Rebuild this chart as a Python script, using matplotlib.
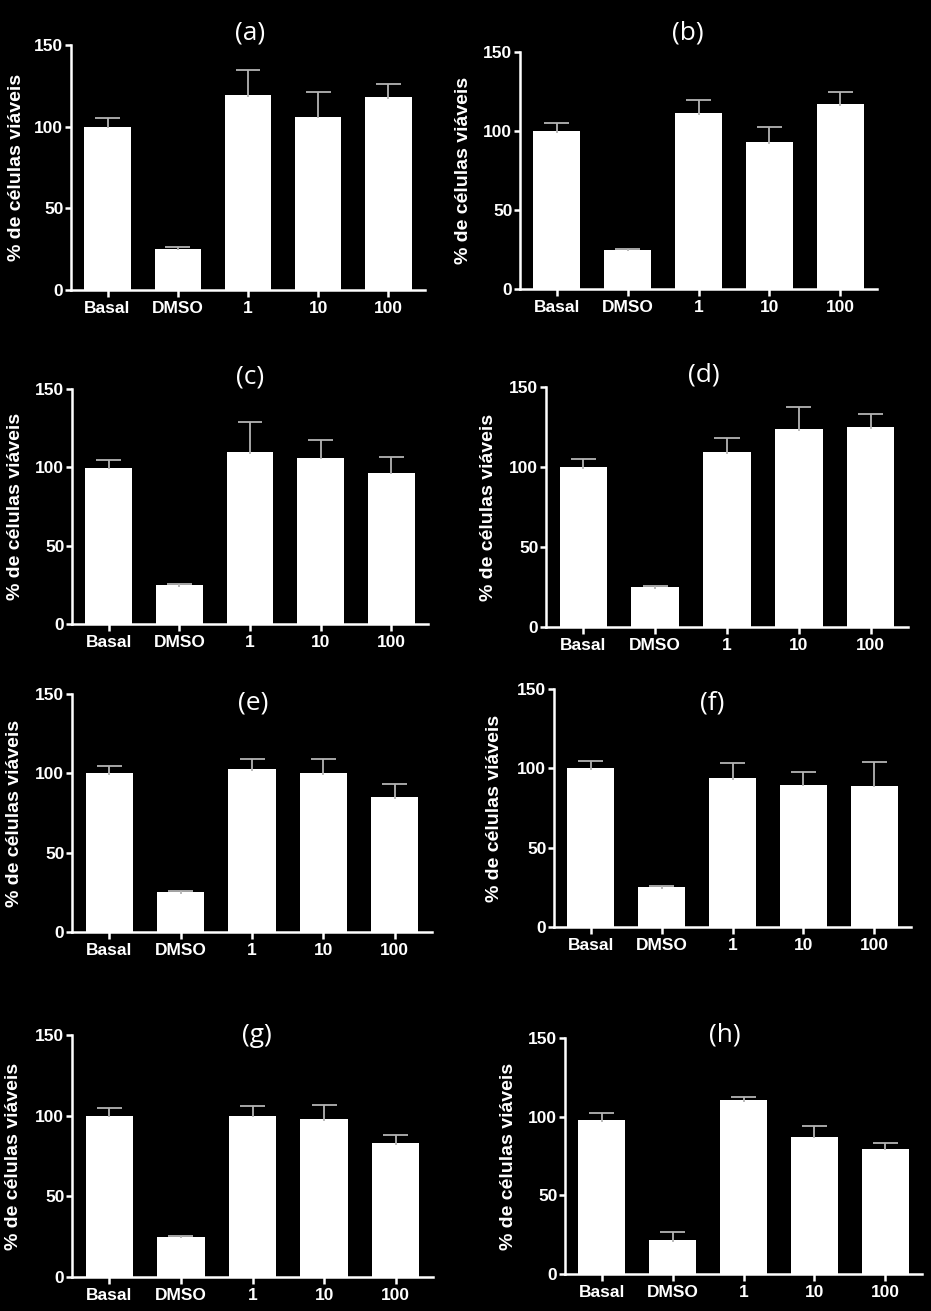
import matplotlib
matplotlib.use("Agg")
import matplotlib.pyplot as plt
import numpy as np

# ---------------- data ----------------
categories = ["Basal", "DMSO", "1", "10", "100"]
panel_titles = ["(a)", "(b)", "(c)", "(d)", "(e)", "(f)", "(g)", "(h)"]
ylabel_text = "% de células viáveis"
y_ticks = [0, 50, 100, 150]

means_a = [100, 25.3, 119.4, 106.1, 118.0]
errs_a = [5.0, 0.8, 15.3, 15.3, 8.0]
means_b = [100, 24.9, 111.2, 93.0, 116.9]
errs_b = [5.1, 0.6, 8.6, 9.5, 7.6]
means_c = [99.7, 24.6, 109.5, 106.1, 96.5]
errs_c = [4.9, 0.9, 19.7, 11.4, 9.8]
means_d = [100, 24.8, 109.1, 123.7, 124.8]
errs_d = [4.8, 0.9, 8.8, 13.8, 8.1]
means_e = [100, 25.0, 102.7, 100.2, 85.1]
errs_e = [4.8, 0.8, 6.3, 9.0, 8.0]
means_f = [100, 25.1, 93.6, 89.6, 89.1]
errs_f = [4.7, 0.6, 10.0, 7.9, 15.0]
means_g = [100, 24.9, 100.0, 97.8, 82.9]
errs_g = [4.8, 0.6, 6.3, 9.1, 5.4]
means_h = [97.6, 21.6, 110.3, 87.3, 79.7]
errs_h = [4.6, 5.4, 2.5, 6.5, 3.5]

all_means = [means_a, means_b, means_c, means_d, means_e, means_f, means_g, means_h]
all_errs = [errs_a, errs_b, errs_c, errs_d, errs_e, errs_f, errs_g, errs_h]

# ---------------- layout (pixels: left, right, top, bottom of plotting box) ----------------
W, H = 931, 1311
boxes = [
    (71, 425, 45, 290),
    (520, 877, 52, 289),
    (72, 428, 389, 624),
    (546, 908, 387, 627),
    (72, 432, 694, 932),
    (554, 911, 689, 927),
    (72, 433, 1035, 1277),
    (565, 922, 1038, 1274),
]
title_pos = [(250, 33), (688, 33), (250, 377), (704, 375),
             (253, 703), (712, 703), (257, 1035), (725, 1035)]
# right edge (pixels) of the rotated y label
ylabel_x = [25, 472, 24, 497, 23, 503, 22, 517]

BG = "black"
FG = "white"
ERR_COLOR = "#b4b4b4"

fig = plt.figure(figsize=(W / 100, H / 100), dpi=100, facecolor=BG)

for i in range(8):
    l, r, t, b = boxes[i]
    ax = fig.add_axes([l / W, 1 - b / H, (r - l) / W, (b - t) / H])
    ax.set_facecolor(BG)
    x = np.arange(len(categories))
    m = np.array(all_means[i])
    e = np.array(all_errs[i])
    ax.bar(x, m, width=0.66, color=FG, edgecolor=FG, linewidth=0, zorder=2)
    ax.vlines(x, m - 1.0, m + e, color=ERR_COLOR, linewidth=1.3, zorder=3)
    ax.hlines(m + e, x - 0.175, x + 0.175, color=ERR_COLOR, linewidth=1.3, zorder=3)
    ax.set_xlim(-0.52, 4.52)
    ax.set_ylim(0, 150)
    ax.set_xticks(x)
    ax.set_xticklabels(categories)
    ax.set_yticks(y_ticks)
    for s in ["top", "right"]:
        ax.spines[s].set_visible(False)
    for s in ["left", "bottom"]:
        ax.spines[s].set_color(FG)
        ax.spines[s].set_linewidth(1.8)
        ax.spines[s].set_zorder(4)
    ax.tick_params(axis="both", colors=FG, width=1.8, direction="out")
    ax.tick_params(axis="y", length=4.5, pad=1)
    ax.tick_params(axis="x", length=5, pad=3)
    for lab in ax.get_xticklabels() + ax.get_yticklabels():
        lab.set_fontfamily("Liberation Sans")
        lab.set_fontweight("bold")
        lab.set_fontsize(12.5)
        lab.set_color(FG)
    ax.set_ylabel(ylabel_text, color=FG, fontsize=14, fontweight="bold",
                  family="Liberation Sans")
    ax.yaxis.set_label_coords((ylabel_x[i] - l) / (r - l), 0.5)
    tx, ty = title_pos[i]
    fig.text(tx / W, 1 - ty / H, panel_titles[i], color=FG, fontsize=19,
             family="Open Sans", ha="center", va="center")

fig.savefig("out.png", dpi=100, facecolor=BG)
